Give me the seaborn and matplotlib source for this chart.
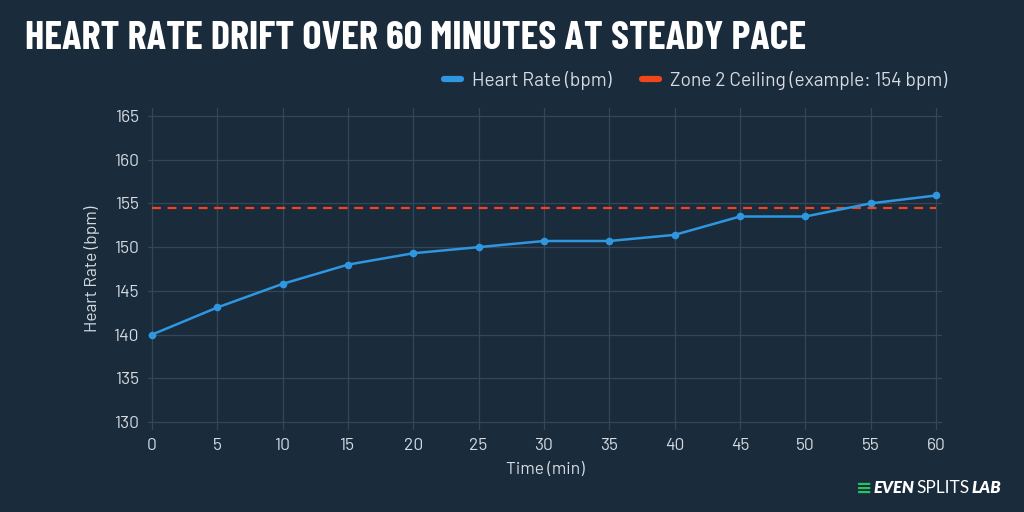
import matplotlib
matplotlib.use("Agg")
import matplotlib.pyplot as plt
from matplotlib.lines import Line2D
import seaborn as sns
import pandas as pd

# ---- data ----
time_min = [0, 5, 10, 15, 20, 25, 30, 35, 40, 45, 50, 55, 60]
heart_rate = [140.0, 143.1, 145.8, 148.0, 149.3, 150.0, 150.7, 150.7, 151.4, 153.5, 153.5, 155.0, 155.9]
zone2_ceiling = 154.5
y_ticks = [130, 135, 140, 145, 150, 155, 160, 165]
x_ticks = [0, 5, 10, 15, 20, 25, 30, 35, 40, 45, 50, 55, 60]

title = "HEART RATE DRIFT OVER 60 MINUTES AT STEADY PACE"
hr_label = "Heart Rate (bpm)"
zone_label = "Zone 2 Ceiling (example: 154 bpm)"
logo_parts = ["EVEN", "SPLITS", "LAB"]

BG = "#1a2b3b"
GRID = "#34465a"
TXT = "#d5dbe2"
BLUE = "#2f96e0"
ORANGE = "#f0461a"
GREEN = "#22c55e"

TITLE_FONT = ["Barlow Condensed", "Bebas Neue", "DejaVu Sans"]
BODY_FONT = ["Barlow", "Roboto", "DejaVu Sans"]
LOGO_FONT = ["Lato", "Roboto", "DejaVu Sans"]

sns.set_theme(style="dark")
plt.rcParams['font.family'] = BODY_FONT

df = pd.DataFrame({"Time (min)": time_min, "Heart Rate (bpm)": heart_rate})

fig = plt.figure(figsize=(10.24, 5.12), dpi=100, facecolor=BG)
ax = fig.add_axes([148/1024, 1-430/512, (942-148)/1024, (430-108)/512])
ax.set_facecolor(BG)

sns.lineplot(data=df, x="Time (min)", y="Heart Rate (bpm)", ax=ax, color=BLUE,
             linewidth=1.8, marker="o", markersize=5.5, markeredgewidth=0, zorder=3)
ax.axhline(zone2_ceiling, xmin=0.005, xmax=0.993, color=ORANGE, linestyle=(0, (4, 3)),
           linewidth=1.6, zorder=2)

ax.set_xlim(-0.3, 60.46)
ax.set_ylim(129.1, 165.9)
ax.set_xticks(x_ticks)
ax.set_yticks(y_ticks)
ax.grid(True, color=GRID, linewidth=0.9)
for s in ax.spines.values():
    s.set_visible(False)
ax.tick_params(axis="both", colors=TXT, labelsize=12.5, length=0, pad=6)
ax.set_xlabel("Time (min)", color=TXT, fontsize=12.5, labelpad=6)
ax.set_ylabel("Heart Rate (bpm)", color=TXT, fontsize=12.5, labelpad=10)

# title (size fitted to the reference width)
fig.canvas.draw()
renderer = fig.canvas.get_renderer()
tsize = 31
ttl = fig.text(25/1024, 1-38.5/512, title, color="white", fontsize=tsize,
               family=TITLE_FONT, fontweight="bold", va="center", ha="left")
w = ttl.get_window_extent(renderer).width
ttl.set_fontsize(tsize * 780 / w)

# legend
handles = [
    Line2D([0], [0], color=BLUE, linewidth=4.5, solid_capstyle="round"),
    Line2D([0], [0], color=ORANGE, linewidth=4.5, solid_capstyle="round"),
]
leg = fig.legend(handles, [hr_label, zone_label], loc="center right",
                 bbox_to_anchor=(965/1024, 1-80/512), ncol=2, frameon=False,
                 handlelength=0.9, handletextpad=0.6, columnspacing=1.55,
                 fontsize=13.8, labelcolor=TXT)

# logo: place parts one after another using measured extents
ly = 1 - 488/512
x = 856
mark = fig.text(x/1024, ly, "\u2261", color=GREEN, fontsize=14, fontweight="bold",
                family=["DejaVu Sans"], va="center", ha="left")
x = mark.get_window_extent(renderer).x1 + 1
styles = [dict(fontweight="heavy", fontstyle="italic", fontsize=12),
          dict(fontweight="normal", fontstyle="normal", fontsize=12.5),
          dict(fontweight="heavy", fontstyle="italic", fontsize=12)]
for part, st in zip(logo_parts, styles):
    t = fig.text(x/1024, ly, part, color="white", family=LOGO_FONT,
                 va="center", ha="left", **st)
    x = t.get_window_extent(renderer).x1 + 2

fig.savefig("out.png", dpi=100, facecolor=BG)
